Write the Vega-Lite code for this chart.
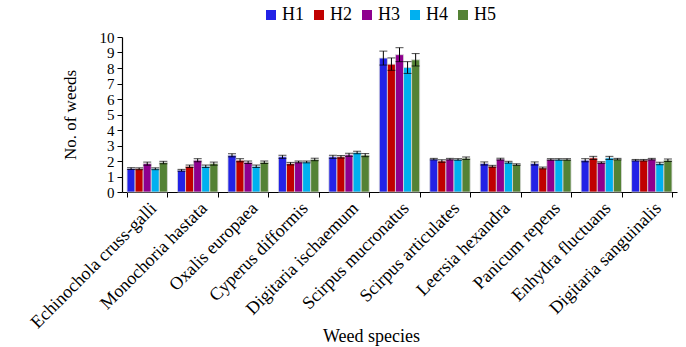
{
  "$schema": "https://vega.github.io/schema/vega-lite/v6.json",
  "width": 555,
  "height": 155,
  "autosize": {"type": "none"},
  "padding": {"left": 122, "top": 37, "right": 9, "bottom": 155},
  "background": "white",
  "config": {
    "font": "Liberation Serif",
    "view": {"stroke": null},
    "axis": {"labelFont": "Liberation Serif", "titleFont": "Liberation Serif", "labelColor": "black", "titleColor": "black", "domainColor": "black", "tickColor": "black", "titleFontWeight": "normal", "grid": false}
  },
  "data": {
    "values": [
      {"species": "Echinochola cruss-galli", "h": "H1", "mean": 1.51, "se": 0.06},
      {"species": "Echinochola cruss-galli", "h": "H2", "mean": 1.5, "se": 0.06},
      {"species": "Echinochola cruss-galli", "h": "H3", "mean": 1.83, "se": 0.1},
      {"species": "Echinochola cruss-galli", "h": "H4", "mean": 1.5, "se": 0.06},
      {"species": "Echinochola cruss-galli", "h": "H5", "mean": 1.9, "se": 0.08},
      {"species": "Monochoria hastata", "h": "H1", "mean": 1.4, "se": 0.06},
      {"species": "Monochoria hastata", "h": "H2", "mean": 1.66, "se": 0.08},
      {"species": "Monochoria hastata", "h": "H3", "mean": 2.05, "se": 0.1},
      {"species": "Monochoria hastata", "h": "H4", "mean": 1.66, "se": 0.08},
      {"species": "Monochoria hastata", "h": "H5", "mean": 1.83, "se": 0.1},
      {"species": "Oxalis europaea", "h": "H1", "mean": 2.37, "se": 0.1},
      {"species": "Oxalis europaea", "h": "H2", "mean": 2.05, "se": 0.1},
      {"species": "Oxalis europaea", "h": "H3", "mean": 1.92, "se": 0.08},
      {"species": "Oxalis europaea", "h": "H4", "mean": 1.66, "se": 0.08},
      {"species": "Oxalis europaea", "h": "H5", "mean": 1.92, "se": 0.08},
      {"species": "Cyperus difformis", "h": "H1", "mean": 2.27, "se": 0.1},
      {"species": "Cyperus difformis", "h": "H2", "mean": 1.83, "se": 0.08},
      {"species": "Cyperus difformis", "h": "H3", "mean": 1.94, "se": 0.06},
      {"species": "Cyperus difformis", "h": "H4", "mean": 1.94, "se": 0.06},
      {"species": "Cyperus difformis", "h": "H5", "mean": 2.1, "se": 0.08},
      {"species": "Digitaria ischaemum", "h": "H1", "mean": 2.27, "se": 0.1},
      {"species": "Digitaria ischaemum", "h": "H2", "mean": 2.27, "se": 0.08},
      {"species": "Digitaria ischaemum", "h": "H3", "mean": 2.4, "se": 0.1},
      {"species": "Digitaria ischaemum", "h": "H4", "mean": 2.55, "se": 0.08},
      {"species": "Digitaria ischaemum", "h": "H5", "mean": 2.38, "se": 0.1},
      {"species": "Scirpus mucronatus", "h": "H1", "mean": 8.64, "se": 0.45},
      {"species": "Scirpus mucronatus", "h": "H2", "mean": 8.25, "se": 0.4},
      {"species": "Scirpus mucronatus", "h": "H3", "mean": 8.86, "se": 0.45},
      {"species": "Scirpus mucronatus", "h": "H4", "mean": 8.03, "se": 0.38},
      {"species": "Scirpus mucronatus", "h": "H5", "mean": 8.53, "se": 0.4},
      {"species": "Scirpus articulates", "h": "H1", "mean": 2.12, "se": 0.05},
      {"species": "Scirpus articulates", "h": "H2", "mean": 2.0, "se": 0.08},
      {"species": "Scirpus articulates", "h": "H3", "mean": 2.12, "se": 0.05},
      {"species": "Scirpus articulates", "h": "H4", "mean": 2.1, "se": 0.05},
      {"species": "Scirpus articulates", "h": "H5", "mean": 2.18, "se": 0.08},
      {"species": "Leersia hexandra", "h": "H1", "mean": 1.84, "se": 0.1},
      {"species": "Leersia hexandra", "h": "H2", "mean": 1.66, "se": 0.06},
      {"species": "Leersia hexandra", "h": "H3", "mean": 2.12, "se": 0.06},
      {"species": "Leersia hexandra", "h": "H4", "mean": 1.92, "se": 0.06},
      {"species": "Leersia hexandra", "h": "H5", "mean": 1.77, "se": 0.05},
      {"species": "Panicum repens", "h": "H1", "mean": 1.84, "se": 0.1},
      {"species": "Panicum repens", "h": "H2", "mean": 1.55, "se": 0.06},
      {"species": "Panicum repens", "h": "H3", "mean": 2.1, "se": 0.05},
      {"species": "Panicum repens", "h": "H4", "mean": 2.1, "se": 0.05},
      {"species": "Panicum repens", "h": "H5", "mean": 2.1, "se": 0.05},
      {"species": "Enhydra fluctuans", "h": "H1", "mean": 2.05, "se": 0.1},
      {"species": "Enhydra fluctuans", "h": "H2", "mean": 2.2, "se": 0.1},
      {"species": "Enhydra fluctuans", "h": "H3", "mean": 1.9, "se": 0.05},
      {"species": "Enhydra fluctuans", "h": "H4", "mean": 2.2, "se": 0.1},
      {"species": "Enhydra fluctuans", "h": "H5", "mean": 2.12, "se": 0.05},
      {"species": "Digitaria sanguinalis", "h": "H1", "mean": 2.05, "se": 0.05},
      {"species": "Digitaria sanguinalis", "h": "H2", "mean": 2.05, "se": 0.05},
      {"species": "Digitaria sanguinalis", "h": "H3", "mean": 2.12, "se": 0.05},
      {"species": "Digitaria sanguinalis", "h": "H4", "mean": 1.84, "se": 0.08},
      {"species": "Digitaria sanguinalis", "h": "H5", "mean": 2.05, "se": 0.08}
    ]
  },
  "encoding": {
    "x": {
      "field": "species", "type": "nominal", "sort": null,
      "scale": {"paddingInner": 0.2, "paddingOuter": 0.1},
      "axis": {"title": "Weed species", "titleFontSize": 18, "titleX": 249, "titleY": 149, "titleAlign": "center", "titleBaseline": "alphabetic", "labelFontSize": 18, "labelAngle": -45, "tickBand": "extent", "tickSize": 5, "labelPadding": 2, "domainWidth": 1.2}
    },
    "xOffset": {"field": "h", "type": "nominal", "sort": ["H1", "H2", "H3", "H4", "H5"]},
    "y": {
      "field": "mean", "type": "quantitative",
      "scale": {"domain": [0, 10], "nice": false},
      "axis": {"title": "No. of weeds", "titleFontSize": 17, "titleX": -52, "titleBaseline": "middle", "labelFontSize": 15, "values": [0,1,2,3,4,5,6,7,8,9,10], "labelOverlap": false, "tickSize": 5, "labelPadding": 3, "domainWidth": 1.2}
    }
  },
  "layer": [
    {
      "mark": {"type": "bar", "stroke": "#d8d8d8", "strokeWidth": 0.8},
      "encoding": {
        "color": {
          "field": "h", "type": "nominal",
          "scale": {"domain": ["H1", "H2", "H3", "H4", "H5"], "range": ["#2222E6", "#C00000", "#8E008E", "#00B0F0", "#548235"]},
          "legend": {"title": null, "orient": "none", "direction": "horizontal", "legendX": 140, "legendY": -31, "symbolType": "square", "symbolSize": 100, "symbolStrokeWidth": 0, "labelFontSize": 18, "labelFont": "Liberation Serif", "labelColor": "black", "columnPadding": 6, "labelOffset": 2}
        }
      }
    },
    {
      "mark": {"type": "errorbar", "ticks": {"size": 8, "color": "black"}, "rule": {"color": "black"}},
      "encoding": {
        "yError": {"field": "se"}
      }
    }
  ]
}
